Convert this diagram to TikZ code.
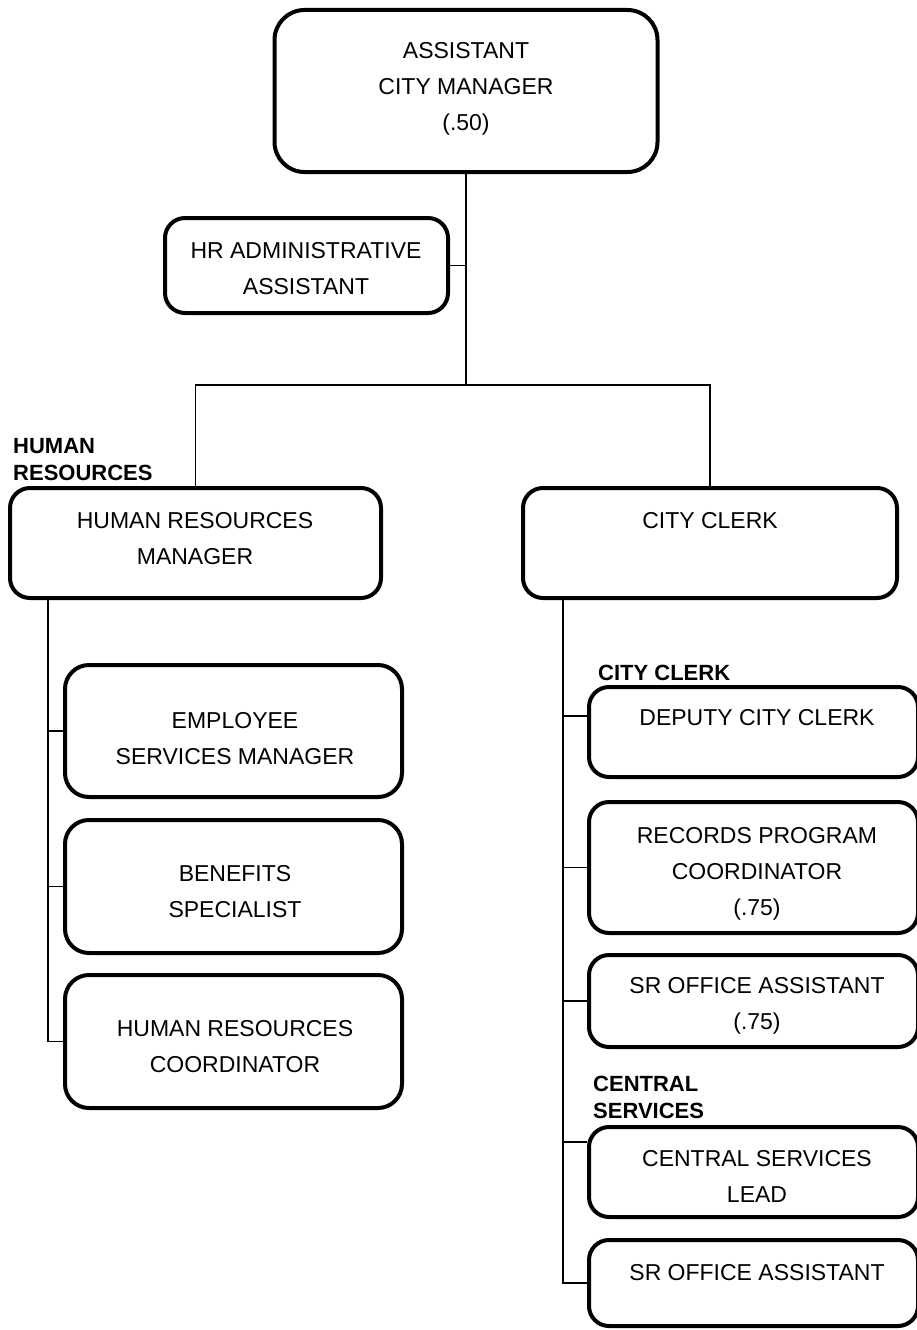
\documentclass[tikz,border=0pt]{standalone}
\usepackage{fontspec}
\setmainfont{Liberation Sans}
\begin{document}
\begin{tikzpicture}[x=1pt, y=-1pt,
  box/.style={draw, line width=4pt, rounded corners=20pt, inner sep=0pt},
  txt/.style={font=\fontsize{23}{36}\selectfont, align=center, inner sep=0pt, anchor=base},
  tag/.style={font=\fontsize{22}{27}\selectfont\bfseries, align=left, inner sep=0pt, anchor=base west},
  conn/.style={line width=1.4pt}]
\useasboundingbox (0,0) rectangle (917,1330);

% boxes (text placed separately, anchored at the last line's baseline)
\node[box, rounded corners=30pt, minimum width=383pt, minimum height=162pt] (acm)   at (466,91) {};
\node[box, minimum width=283pt, minimum height=95pt]  (hradm) at (306.5,265.5) {};
\node[box, minimum width=371pt, minimum height=110pt] (hrm)   at (195.5,543) {};
\node[box, minimum width=374pt, minimum height=110pt] (cc)    at (710,543) {};
\node[box, rounded corners=24pt, minimum width=337pt, minimum height=132pt] (esm) at (233.5,731) {};
\node[box, rounded corners=24pt, minimum width=337pt, minimum height=133pt] (ben) at (233.5,886.5) {};
\node[box, rounded corners=24pt, minimum width=337pt, minimum height=133pt] (hrc) at (233.5,1041.5) {};
\node[box, minimum width=329pt, minimum height=90pt]  (dcc)   at (753.5,732) {};
\node[box, minimum width=329pt, minimum height=131pt] (rpc)   at (753.5,867.5) {};
\node[box, minimum width=329pt, minimum height=92pt]  (soa1)  at (753.5,1001) {};
\node[box, minimum width=329pt, minimum height=90pt]  (csl)   at (753.5,1172) {};
\node[box, minimum width=329pt, minimum height=86pt]  (soa2)  at (753.5,1283) {};

% titles
\node[txt] (acm-t)   at (466,130)  {ASSISTANT\\CITY MANAGER\\(.50)};
\node[txt] (hradm-t) at (306,294)  {HR ADMINISTRATIVE\\ASSISTANT};
\node[txt] (hrm-t)   at (195,564)  {HUMAN RESOURCES\\MANAGER};
\node[txt] (cc-t)    at (710,528)  {CITY CLERK};
\node[txt] (esm-t)   at (235,764)  {EMPLOYEE\\SERVICES MANAGER};
\node[txt] (ben-t)   at (235,917)  {BENEFITS\\SPECIALIST};
\node[txt] (hrc-t)   at (235,1072) {HUMAN RESOURCES\\COORDINATOR};
\node[txt] (dcc-t)   at (757,725)  {DEPUTY CITY CLERK};
\node[txt] (rpc-t)   at (757,915)  {RECORDS PROGRAM\\COORDINATOR\\(.75)};
\node[txt] (soa1-t)  at (757,1029) {SR OFFICE ASSISTANT\\(.75)};
\node[txt] (csl-t)   at (757,1202) {CENTRAL SERVICES\\LEAD};
\node[txt] (soa2-t)  at (757,1280) {SR OFFICE ASSISTANT};

% section tags
\node[tag] (tag-hr) at (13,480)   {HUMAN\\RESOURCES};
\node[tag] (tag-cc) at (598,680)  {CITY CLERK};
\node[tag] (tag-cs) at (593,1118) {CENTRAL\\SERVICES};

% connectors
\coordinate (bar) at (466,385);
\coordinate (hrs) at (48,0);
\coordinate (ccs) at (563,0);
\draw[conn] (acm.south) -- (bar);
\draw[conn] (hradm.east) -- (hradm.east -| acm.south);
\draw[conn] (hrm.north) |- (bar) -| (cc.north);

\draw[conn] (hrm.south -| hrs) |- (esm.west);
\draw[conn] (hrm.south -| hrs) |- (ben.west);
\draw[conn] (hrm.south -| hrs) |- (hrc.west);

\draw[conn] (cc.south -| ccs) |- ([yshift=16pt]dcc.west);
\draw[conn] (cc.south -| ccs) |- (rpc.west);
\draw[conn] (cc.south -| ccs) |- (soa1.west);
\draw[conn] (cc.south -| ccs) |- ([yshift=30pt]csl.west);
\draw[conn] (cc.south -| ccs) |- (soa2.west);
\end{tikzpicture}
\end{document}
